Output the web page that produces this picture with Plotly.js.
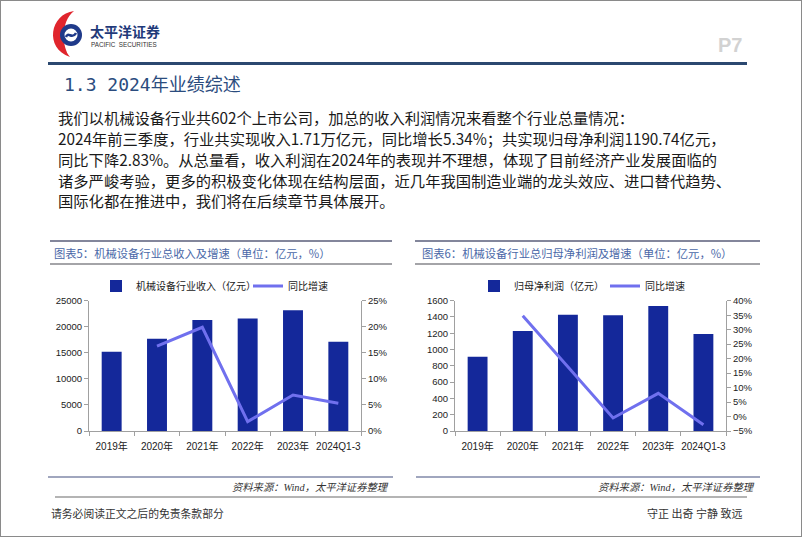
<!DOCTYPE html>
<html>
<head>
<meta charset="utf-8">
<script src="https://cdn.plot.ly/plotly-3.0.1.min.js"></script>
<style>
html,body{margin:0;padding:0;background:#fff;}
#chart{width:802px;height:537px;}
</style>
</head>
<body>
<div id="chart"></div>
<script>
// ---- data ----
const categories = ['2019年', '2020年', '2021年', '2022年', '2023年', '2024Q1-3'];
const revenue = [15200, 17700, 21300, 21600, 23150, 17100];          // 亿元
const revenueGrowth = [null, 16.3, 19.9, 1.8, 6.9, 5.34];           // %
const profit = [912, 1228, 1428, 1420, 1535, 1190.74];              // 亿元
const profitGrowth = [null, 34.8, 17.0, -0.5, 8.0, -2.83];          // %
const revenueTicks = [0, 5000, 10000, 15000, 20000, 25000];
const profitTicks = [0, 200, 400, 600, 800, 1000, 1200, 1400, 1600];

const W = 802, H = 537;
const X = p => p / W;
const Y = p => 1 - p / H;
const P = d => d.replace(/(-?[\d.]+)[ ,]+(-?[\d.]+)/g, (m, a, b) => X(+a).toFixed(5) + ',' + Y(+b).toFixed(5));

const BAR = '#14289A';
const LINE = '#7070EE';
const CJK = 'Noto Sans CJK SC, Noto Sans, sans-serif';
const AX = 'Liberation Sans, Arial, Noto Sans CJK SC, sans-serif';

const traces = [
  {type: 'bar', x: categories, y: revenue, name: '机械设备行业收入（亿元）', xaxis: 'x', yaxis: 'y',
   marker: {color: BAR}, legend: 'legend', hoverinfo: 'skip'},
  {type: 'scatter', mode: 'lines', x: categories, y: revenueGrowth, name: '同比增速', xaxis: 'x', yaxis: 'y2',
   line: {color: LINE, width: 3}, legend: 'legend2', hoverinfo: 'skip'},
  {type: 'bar', x: categories, y: profit, name: '归母净利润（亿元）', xaxis: 'x3', yaxis: 'y3',
   marker: {color: BAR}, legend: 'legend3', hoverinfo: 'skip'},
  {type: 'scatter', mode: 'lines', x: categories, y: profitGrowth, name: '同比增速', xaxis: 'x3', yaxis: 'y4',
   line: {color: LINE, width: 3}, legend: 'legend4', hoverinfo: 'skip'}
];

const axCommon = {
  showline: true, linecolor: '#a0a0a0', linewidth: 1,
  ticks: 'outside', ticklen: 4, tickcolor: '#a0a0a0',
  showgrid: false, zeroline: false, fixedrange: true, automargin: false,
  tickfont: {family: AX, size: 9.5, color: '#222'}
};
const yDom = [Y(431), Y(300.7)];

function legendAt(px) {
  return {x: X(px), y: Y(286), xanchor: 'left', yanchor: 'middle', orientation: 'h',
          bgcolor: 'rgba(0,0,0,0)', font: {family: AX, size: 10, color: '#222'}};
}

const layout = {
  width: W, height: H,
  margin: {l: 0, r: 0, t: 0, b: 0},
  paper_bgcolor: '#fff', plot_bgcolor: 'rgba(0,0,0,0)',
  bargap: 0.56,
  showlegend: true,
  legend: legendAt(96),
  legend2: legendAt(248),
  legend3: legendAt(474),
  legend4: legendAt(605),
  xaxis: Object.assign({}, axCommon, {domain: [X(89), X(361)], anchor: 'y', type: 'category', tickson: 'boundaries', tickangle: 0,
    ticklabelstandoff: 6, tickfont: {family: AX, size: 10, color: '#222'}}),
  yaxis: Object.assign({}, axCommon, {domain: yDom, anchor: 'x', range: [0, 25000], tickvals: revenueTicks, tickformat: 'd'}),
  yaxis2: Object.assign({}, axCommon, {overlaying: 'y', side: 'right', anchor: 'x', range: [0, 25], dtick: 5, ticksuffix: '%'}),
  xaxis3: Object.assign({}, axCommon, {domain: [X(455), X(726)], anchor: 'y3', type: 'category', tickson: 'boundaries', tickangle: 0,
    ticklabelstandoff: 6, tickfont: {family: AX, size: 10, color: '#222'}}),
  yaxis3: Object.assign({}, axCommon, {domain: yDom, anchor: 'x3', range: [0, 1600], tickvals: profitTicks, tickformat: 'd'}),
  yaxis4: Object.assign({}, axCommon, {overlaying: 'y3', side: 'right', anchor: 'x3', range: [-5, 40], dtick: 5, ticksuffix: '%'}),
  shapes: [
    // page frame
    {type: 'rect', xref: 'paper', yref: 'paper', x0: 0, x1: 1, y0: 0, y1: 1, line: {color: '#8a8a8a', width: 2}},
    // header rule
    {type: 'line', xref: 'paper', yref: 'paper', x0: X(48), x1: X(747), y0: Y(63.5), y1: Y(63.5), line: {color: '#2B4870', width: 3}},
    // chart title rules
    {type: 'line', xref: 'paper', yref: 'paper', x0: X(50), x1: X(392), y0: Y(241), y1: Y(241), line: {color: '#5a5e7a', width: 1.5}},
    {type: 'line', xref: 'paper', yref: 'paper', x0: X(50), x1: X(392), y0: Y(264), y1: Y(264), line: {color: '#a4a4a8', width: 2}},
    {type: 'line', xref: 'paper', yref: 'paper', x0: X(415), x1: X(760), y0: Y(241), y1: Y(241), line: {color: '#5a5e7a', width: 1.5}},
    {type: 'line', xref: 'paper', yref: 'paper', x0: X(415), x1: X(760), y0: Y(264), y1: Y(264), line: {color: '#a4a4a8', width: 2}},
    // source rules
    {type: 'line', xref: 'paper', yref: 'paper', x0: X(48), x1: X(393), y0: Y(477), y1: Y(477), line: {color: '#8088a8', width: 1.5}},
    {type: 'line', xref: 'paper', yref: 'paper', x0: X(416), x1: X(760), y0: Y(477), y1: Y(477), line: {color: '#8088a8', width: 1.5}},
    // footer rule
    {type: 'line', xref: 'paper', yref: 'paper', x0: X(55), x1: X(747), y0: Y(497), y1: Y(497), line: {color: '#b4b4b4', width: 2}},
    // logo: red crescent
    {type: 'path', xref: 'paper', yref: 'paper', path: P('M 74 11 C 50 14 44 48 70 57 C 62 48 60 22 74 11 Z'),
     fillcolor: '#E0252D', line: {width: 0}},
    // logo: blue ring
    {type: 'circle', xref: 'paper', yref: 'paper', x0: X(60), x1: X(82), y0: Y(46), y1: Y(24), fillcolor: '#1F3A8A', line: {width: 0}},
    {type: 'circle', xref: 'paper', yref: 'paper', x0: X(64.5), x1: X(77.5), y0: Y(41.5), y1: Y(28.5), fillcolor: '#ffffff', line: {width: 0}},
    {type: 'path', xref: 'paper', yref: 'paper', path: P('M 66 37 C 68 31 72 40 76 33'), line: {color: '#1F3A8A', width: 2.5}}
  ],
  annotations: []
};

function txt(text, x, y, opts) {
  const o = Object.assign({xanchor: 'left', yanchor: 'middle', size: 12, color: '#222', family: CJK}, opts || {});
  layout.annotations.push({text: text, x: X(x), y: Y(y), xref: 'paper', yref: 'paper', showarrow: false,
    xanchor: o.xanchor, yanchor: o.yanchor, font: {family: o.family, size: o.size, color: o.color}});
}

// logo text
txt('<b>太平洋证券</b>', 88, 30.5, {size: 14, color: '#1F3A7A'});
txt('PACIFIC  SECURITIES', 89, 45, {size: 6.3, color: '#333', family: AX});
// page number
txt('<b>P7</b>', 716, 45, {size: 20, color: '#d2d2d2', family: AX});
// section title
txt('1.3 2024年业绩综述', 62, 84, {size: 18, color: '#2B4C7E', family: 'DejaVu Sans Mono, Noto Sans CJK SC, monospace'});
// body
const body = [
  '我们以机械设备行业共602个上市公司，加总的收入利润情况来看整个行业总量情况：',
  '2024年前三季度，行业共实现收入1.71万亿元，同比增长5.34%；共实现归母净利润1190.74亿元，',
  '同比下降2.83%。从总量看，收入利润在2024年的表现并不理想，体现了目前经济产业发展面临的',
  '诸多严峻考验，更多的积极变化体现在结构层面，近几年我国制造业端的龙头效应、进口替代趋势、',
  '国际化都在推进中，我们将在后续章节具体展开。'
];
const bodyY = [117, 138, 159, 180, 200];
body.forEach((t, i) => txt(t, 56, bodyY[i], {size: 15.3, color: '#1a1a1a'}));
// chart titles
txt('图表5：机械设备行业总收入及增速（单位：亿元，%）', 52, 252.5, {size: 11.3, color: '#4A68A8'});
txt('图表6：机械设备行业总归母净利润及增速（单位：亿元，%）', 420, 252.5, {size: 11.3, color: '#4A68A8'});
// sources
txt('<i>资料来源：Wind，太平洋证券整理</i>', 391, 487, {xanchor: 'right', size: 10.3, color: '#333', family: 'Liberation Serif, Noto Sans CJK SC, serif'});
txt('<i>资料来源：Wind，太平洋证券整理</i>', 757, 487, {xanchor: 'right', size: 10.3, color: '#333', family: 'Liberation Serif, Noto Sans CJK SC, serif'});
// footer
txt('请务必阅读正文之后的免责条款部分', 49, 513, {size: 10.8, color: '#333'});
txt('守正 出奇 宁静 致远', 744, 513, {xanchor: 'right', size: 11, color: '#333'});

Plotly.newPlot('chart', traces, layout, {displayModeBar: false, staticPlot: true});
</script>
</body>
</html>
